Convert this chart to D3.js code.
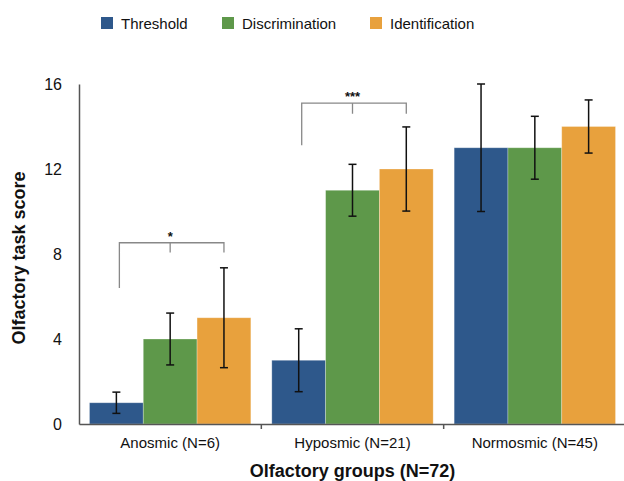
<!DOCTYPE html>
<html>
<head>
<meta charset="utf-8">
<script src="https://cdn.jsdelivr.net/npm/d3@7"></script>
<style>
  body { margin: 0; background: #fff; }
  text { font-family: "Liberation Sans", Arial, Helvetica, sans-serif; }
</style>
</head>
<body>
<svg id="chart"></svg>
<script>
// groups and series
let groups = ["Anosmic (N=6)", "Hyposmic (N=21)", "Normosmic (N=45)"]
let series = ["Threshold", "Discrimination", "Identification"]
let colors = ["#2e588b", "#5e984a", "#e8a13d"]

// mean scores per series, one value per group
let threshold = [1, 3, 13]
let discrimination = [4, 11, 13]
let identification = [5, 12, 14]

// error bar half widths
let thresholdErr = [0.5, 1.48, 3]
let discriminationErr = [1.22, 1.22, 1.48]
let identificationErr = [2.35, 1.98, 1.25]

let yTicks = [0, 4, 8, 12, 16]

// significance brackets: group, bracket height, left leg end, right leg end, label
let sigGroups = ["Anosmic (N=6)", "Hyposmic (N=21)"]
let sigTop = [8.53, 15.1]
let sigLeftEnd = [6.4, 13.12]
let sigRightEnd = [8.07, 14.6]
let sigLabels = ["*", "***"]

let width = 624, height = 481
let margin = { top: 84, right: -2, bottom: 57, left: 79 }

let svg = d3.select('#chart')
    .attr('width', width)
    .attr('height', height)

let values = [threshold, discrimination, identification]
let errs = [thresholdErr, discriminationErr, identificationErr]
let data = []
groups.forEach((g, gi) => {
  series.forEach((s, si) => {
    data.push({ group: g, series: s, value: values[si][gi], err: errs[si][gi], color: colors[si] })
  })
})

let x0 = d3.scaleBand().domain(groups)
    .range([margin.left, width - margin.right])
    .paddingInner(0.115).paddingOuter(0.0575)
let x1 = d3.scaleBand().domain(series).range([0, x0.bandwidth()])
let y = d3.scaleLinear().domain([0, 16]).range([height - margin.bottom, margin.top])

// bars
svg.append('g').selectAll('rect')
    .data(data)
    .enter()
    .append('rect')
    .attr('x', d => x0(d.group) + x1(d.series))
    .attr('y', d => y(d.value))
    .attr('width', x1.bandwidth())
    .attr('height', d => y(0) - y(d.value))
    .attr('fill', d => d.color)
    .attr('stroke', 'rgba(255,255,255,0.35)')
    .attr('stroke-width', 0.8)

// error bars
let eb = svg.append('g').attr('stroke', '#111').attr('stroke-width', 1.5)
data.forEach(d => {
  let cx = x0(d.group) + x1(d.series) + x1.bandwidth() / 2
  eb.append('line').attr('x1', cx).attr('x2', cx).attr('y1', y(d.value + d.err)).attr('y2', y(d.value - d.err))
  eb.append('line').attr('x1', cx - 4).attr('x2', cx + 4).attr('y1', y(d.value + d.err)).attr('y2', y(d.value + d.err))
  eb.append('line').attr('x1', cx - 4).attr('x2', cx + 4).attr('y1', y(d.value - d.err)).attr('y2', y(d.value - d.err))
})

// y axis
let yAxis = svg.append('g')
    .attr('transform', 'translate(' + margin.left + ',0)')
    .call(d3.axisLeft(y).tickValues(yTicks).tickSize(0).tickSizeOuter(0).tickPadding(17))
yAxis.select('.domain').attr('stroke', '#555').attr('stroke-width', 1.5)
yAxis.selectAll('text').attr('font-size', 16).attr('fill', '#111')
    .style('font-family', '"Liberation Sans", Arial, sans-serif')

// x axis
let xAxis = svg.append('g')
    .attr('transform', 'translate(0,' + y(0) + ')')
    .call(d3.axisBottom(x0).tickSize(0).tickSizeOuter(0).tickPadding(13))
xAxis.select('.domain').attr('stroke', '#555').attr('stroke-width', 1.5)
xAxis.selectAll('text').attr('font-size', 15).attr('fill', '#111')
    .style('font-family', '"Liberation Sans", Arial, sans-serif')
// boundary ticks between groups
xAxis.selectAll('.bound')
    .data(groups.slice(1))
    .enter()
    .append('line')
    .attr('x1', d => x0(d) - x0.step() * x0.paddingInner() / 2)
    .attr('x2', d => x0(d) - x0.step() * x0.paddingInner() / 2)
    .attr('y1', 0).attr('y2', 5)
    .attr('stroke', '#555').attr('stroke-width', 1.5)

// significance brackets
let br = svg.append('g').attr('stroke', '#888').attr('stroke-width', 1.3).attr('fill', 'none')
sigGroups.forEach((g, i) => {
  let xl = x0(g) + x1(series[0]) + x1.bandwidth() / 2 + 3
  let xm = x0(g) + x1(series[1]) + x1.bandwidth() / 2
  let xr = x0(g) + x1(series[2]) + x1.bandwidth() / 2
  br.append('path')
    .attr('d', 'M' + xl + ',' + y(sigLeftEnd[i]) + 'V' + y(sigTop[i]) + 'H' + xr + 'V' + y(sigRightEnd[i]))
  br.append('line').attr('x1', xm).attr('x2', xm).attr('y1', y(sigTop[i])).attr('y2', y(sigRightEnd[i]))
  svg.append('text')
    .attr('x', xm).attr('y', y(sigTop[i]) - 2)
    .attr('text-anchor', 'middle')
    .attr('font-size', 13).attr('font-weight', 'bold').attr('fill', '#111')
    .text(sigLabels[i])
})

// axis titles
svg.append('text')
    .attr('transform', 'translate(25,258) rotate(-90)')
    .attr('text-anchor', 'middle')
    .attr('font-size', 18).attr('font-weight', 'bold').attr('fill', '#111')
    .text('Olfactory task score')

svg.append('text')
    .attr('x', (margin.left + width - margin.right) / 2)
    .attr('y', 477)
    .attr('text-anchor', 'middle')
    .attr('font-size', 18).attr('font-weight', 'bold').attr('fill', '#111')
    .text('Olfactory groups (N=72)')

// legend
let legendX = [101, 222, 370]
let legend = svg.append('g').selectAll('g')
    .data(series)
    .enter()
    .append('g')
    .attr('transform', (d, i) => 'translate(' + legendX[i] + ',17)')
legend.append('rect')
    .attr('width', 12).attr('height', 12)
    .attr('fill', (d, i) => colors[i])
legend.append('text')
    .attr('x', 20).attr('y', 12)
    .attr('font-size', 15).attr('fill', '#111')
    .text(d => d)
</script>
</body>
</html>
